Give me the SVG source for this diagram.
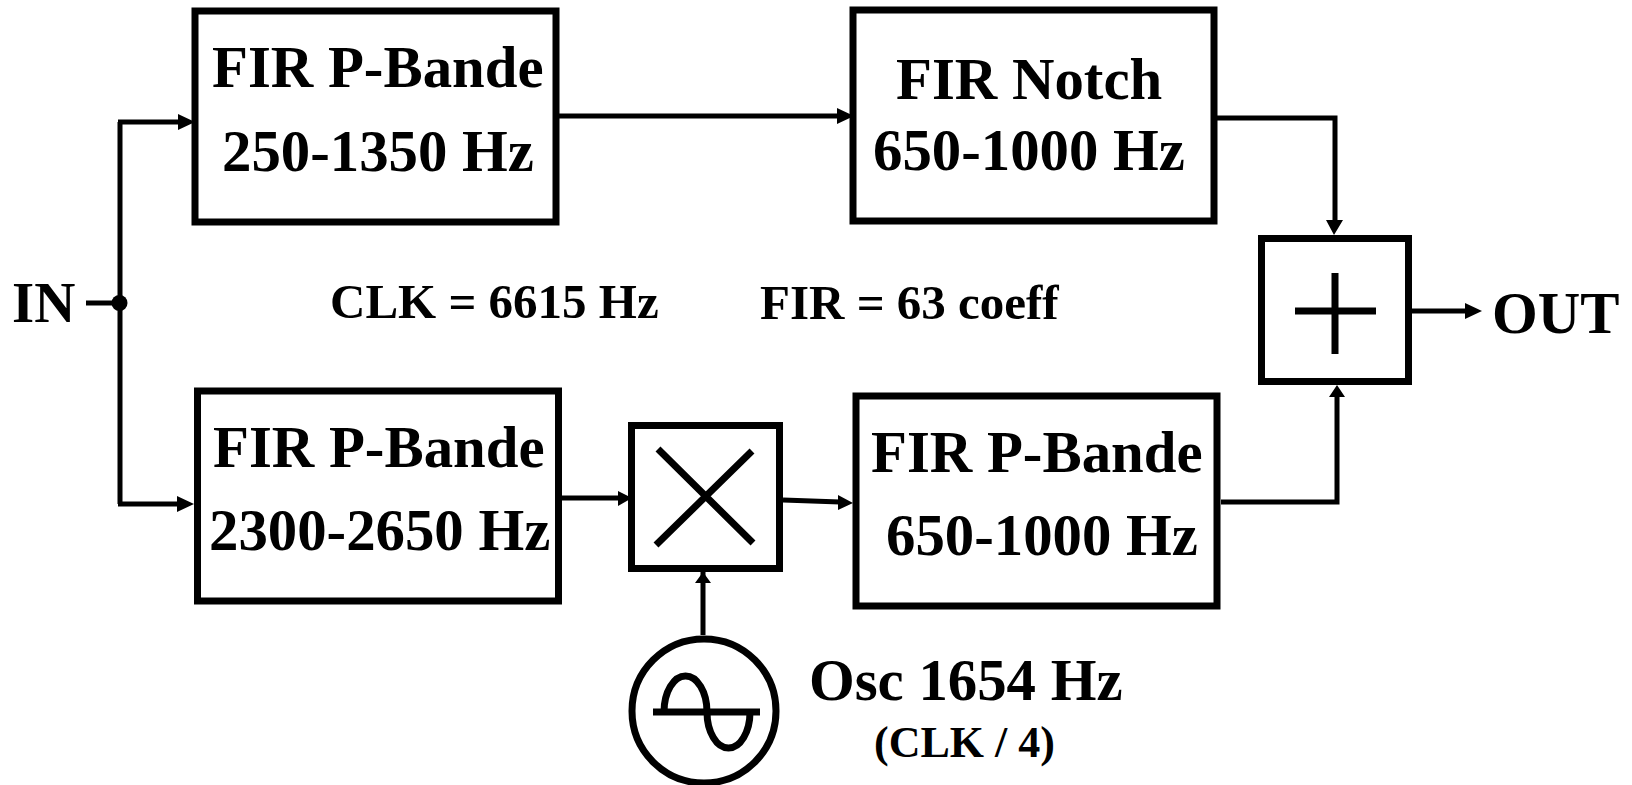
<svg xmlns="http://www.w3.org/2000/svg" width="1632" height="785" viewBox="0 0 1632 785">
<style>
.b{fill:#fff;stroke:#000;stroke-width:7}
.s{fill:none;stroke:#000;stroke-width:7}
.c{fill:none;stroke:#000;stroke-width:5}
.a{fill:#000;stroke:none}
text{font-family:"Liberation Serif","Times New Roman",serif;font-weight:bold;fill:#000}
.l{font-size:58.800px}
.m{font-size:49px}
.n{font-size:44px}
.i{font-size:57px}
</style>
<rect width="1632" height="785" fill="#fff"/>
<g id="connectors">
<path class="c" d="M86 303H120M120 122V504M118 122H180M118 504H180M559 116H840M1216 118H1335V220M1221 502H1337V395M559 498H620M783 500L840 502M703 635V550M1412 311H1465"/>
<path class="a" d="M195 122L178 114V130ZM194 504L177 496V512ZM854 116L837 108V124ZM632 498L618 491V506ZM853 503L838 495V510ZM703 572L695 583 711 583ZM1334 235L1326 220H1343ZM1337 385L1329 397H1345ZM1482 311L1465 303V319Z"/>
<circle class="a" cx="119.500" cy="303" r="8"/>
</g>
<g id="fir1"><rect class="b" x="195" y="11" width="361" height="211"/>
<text class="l" x="212" y="87">FIR P-Bande</text><text class="l" x="222" y="171">250-1350 Hz</text></g>
<g id="notch"><rect class="b" x="853" y="10" width="361" height="211"/>
<text class="l" x="896" y="99">FIR Notch</text><text class="l" x="873" y="170">650-1000 Hz</text></g>
<g id="fir2"><rect class="b" x="197.500" y="391" width="361" height="210"/>
<text class="l" x="213" y="467">FIR P-Bande</text><text class="l" x="209" y="550">2300-2650 Hz</text></g>
<g id="fir3"><rect class="b" x="856" y="396" width="361" height="210"/>
<text class="l" x="871" y="472">FIR P-Bande</text><text class="l" x="886" y="555">650-1000 Hz</text></g>
<g id="mixer"><rect class="b" x="631.500" y="425.500" width="148" height="143"/>
<path class="s" d="M658 449L753 543M752 451L656 545"/></g>
<g id="sum"><rect class="b" x="1261.500" y="238.500" width="147" height="143"/>
<path class="s" d="M1335 273V354M1295 311H1376"/></g>
<g id="osc"><circle class="s" cx="704" cy="711" r="72"/>
<path class="s" d="M653 712H760M664 712A21.500 36 0 0 1 707 712A21.500 36 0 0 0 750 712"/></g>
<g id="labels">
<text class="i" x="12" y="322">IN</text>
<text class="l" x="1492" y="333">OUT</text>
<text class="m" x="330" y="318">CLK = 6615 Hz</text>
<text class="m" x="760" y="319">FIR = 63 coeff</text>
<text class="l" x="809" y="700">Osc 1654 Hz</text>
<text class="n" x="874" y="757">(CLK / 4)</text>
</g>
</svg>
